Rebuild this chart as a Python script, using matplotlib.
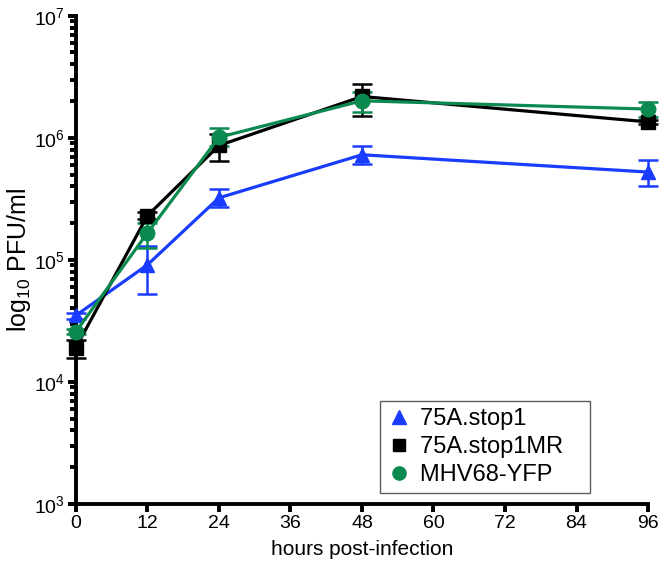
import matplotlib
matplotlib.use("Agg")
import matplotlib.pyplot as plt
from matplotlib.ticker import LogLocator
import numpy as np

plt.rcParams['font.family'] = ['Liberation Sans', 'DejaVu Sans']
plt.rcParams['mathtext.fontset'] = 'custom'
plt.rcParams['mathtext.rm'] = 'Liberation Sans'
plt.rcParams['mathtext.it'] = 'Liberation Sans'

hours = [0, 12, 24, 48, 96]

stop1 = [3.5e4, 9.1e4, 3.22e5, 7.26e5, 5.24e5]
stop1_lo = [3.3e4, 5.2e4, 2.72e5, 6.1e5, 4.06e5]
stop1_hi = [3.7e4, 1.31e5, 3.82e5, 8.6e5, 6.6e5]

stop1MR = [1.91e4, 2.3e5, 8.65e5, 2.18e6, 1.35e6]
stop1MR_lo = [1.58e4, 2.15e5, 6.5e5, 1.5e6, 1.3e6]
stop1MR_hi = [2.2e4, 2.45e5, 1.07e6, 2.77e6, 1.4e6]

yfp = [2.58e4, 1.66e5, 1.01e6, 2.01e6, 1.72e6]
yfp_lo = [2.45e4, 1.25e5, 8.6e5, 1.63e6, 1.49e6]
yfp_hi = [2.7e4, 2.02e5, 1.21e6, 2.38e6, 1.97e6]

labels = ['75A.stop1', '75A.stop1MR', 'MHV68-YFP']
colors = ['#1a3cff', '#000000', '#0b8a4f']
markers = ['^', 's', 'o']
xticks = [0, 12, 24, 36, 48, 60, 72, 84, 96]

fig = plt.figure(figsize=(6.66, 5.63), dpi=100)
ax = fig.add_axes([0.114, 0.105, 0.859, 0.867])

series = [(stop1, stop1_lo, stop1_hi), (stop1MR, stop1MR_lo, stop1MR_hi), (yfp, yfp_lo, yfp_hi)]
handles = []
for (v, lo, hi), lab, c, m in zip(series, labels, colors, markers):
    v = np.array(v); lo = np.array(lo); hi = np.array(hi)
    yerr = [v - lo, hi - v]
    eb = ax.errorbar(hours, v, yerr=yerr, color=c, marker=m, markersize=10.5 if m != 's' else 9.5,
                     linewidth=2.3, elinewidth=1.8, capsize=7, capthick=1.8, clip_on=False, zorder=3)
    eb.lines[0].set_clip_on(False)
    for a in eb.lines[1]:
        a.set_clip_on(False)
    for a in eb.lines[2]:
        a.set_clip_on(False)
    h, = ax.plot([], [], linestyle='none', marker=m, color=c, markersize=9.5 if m != 's' else 8.5,
                 label=lab + '   ')
    handles.append(h)

ax.set_yscale('log')
ax.set_ylim(1e3, 1e7)
ax.set_xlim(0, 96)
ax.set_xticks(xticks)
ax.set_xticklabels([str(t) for t in xticks])
ax.yaxis.set_major_locator(LogLocator(base=10, numticks=10))
ax.yaxis.set_minor_locator(LogLocator(base=10, subs=np.arange(2, 10), numticks=20))

for s in ['top', 'right']:
    ax.spines[s].set_visible(False)
for s in ['left', 'bottom']:
    ax.spines[s].set_linewidth(2.8)

ax.tick_params(axis='both', which='major', direction='out', length=6, width=2.8, labelsize=14, pad=2)
ax.tick_params(axis='y', which='minor', direction='out', length=4, width=2.8)
ax.tick_params(axis='x', which='minor', length=0)

ax.set_xlabel('hours post-infection', fontsize=15, labelpad=6)
ax.set_ylabel('log$_{10}$ PFU/ml', fontsize=18)
ax.yaxis.set_label_coords(-0.075, 0.5)

leg = ax.legend(handles=handles, loc='lower right', bbox_to_anchor=(0.92, -0.002), fontsize=17,
                frameon=True, fancybox=False, edgecolor='#333333', handlelength=1.0,
                handletextpad=0.4, borderpad=0.3, labelspacing=0.25)
leg.get_frame().set_linewidth(1.0)

fig.savefig('out.png', dpi=100)
